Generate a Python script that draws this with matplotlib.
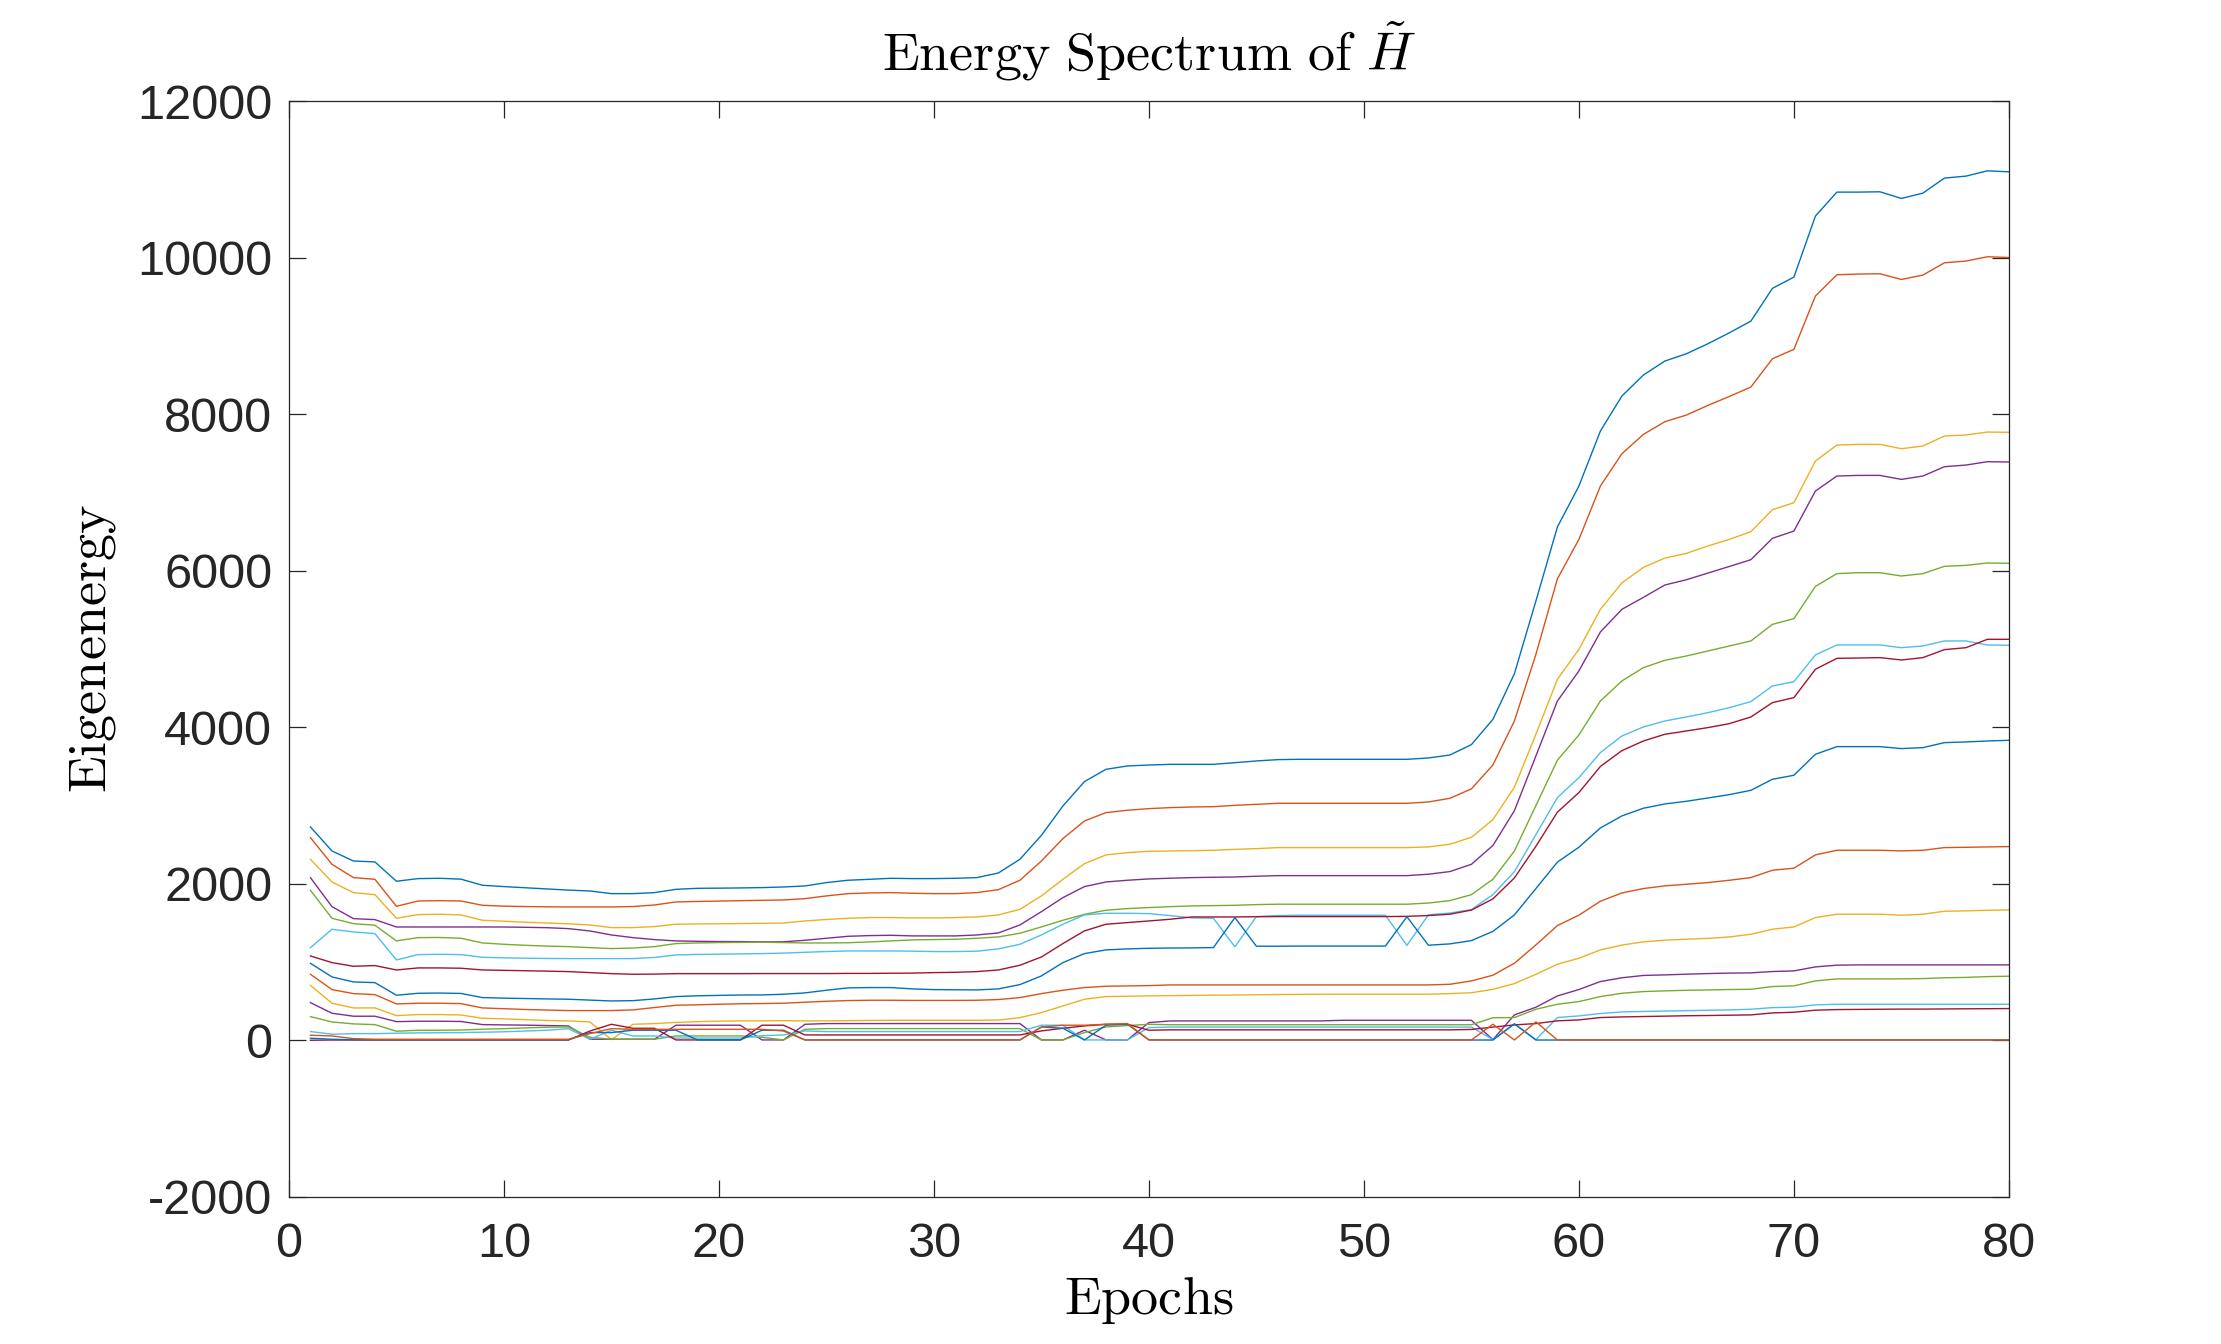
import numpy as np
import matplotlib
matplotlib.use("Agg")
import matplotlib.pyplot as plt

# eigenvalues of H~ per epoch (16 levels)
epochs = np.arange(1, 81)

level_01 = [2727, 2420, 2292, 2280, 2033, 2067, 2071, 2060, 1982, 1965,
            1950, 1935, 1920, 1909, 1875, 1875, 1888, 1930, 1943, 1945,
            1948, 1952, 1960, 1973, 2016, 2046, 2058, 2071, 2067, 2067,
            2071, 2080, 2139, 2314, 2620, 2995, 3306, 3463, 3506, 3518,
            3527, 3527, 3527, 3548, 3570, 3587, 3591, 3591, 3591, 3591,
            3591, 3591, 3608, 3646, 3779, 4102, 4685, 5614, 6559, 7082,
            7785, 8232, 8500, 8679, 8772, 8900, 9040, 9189, 9607, 9751,
            10530, 10837, 10837, 10841, 10756, 10824, 11016, 11041, 11109, 11096]
level_02 = [2590, 2250, 2080, 2058, 1713, 1781, 1785, 1781, 1726, 1715,
            1710, 1707, 1705, 1705, 1705, 1710, 1730, 1769, 1775, 1780,
            1785, 1790, 1794, 1811, 1846, 1875, 1884, 1888, 1880, 1875,
            1875, 1888, 1926, 2046, 2292, 2578, 2803, 2910, 2940, 2961,
            2974, 2982, 2986, 3003, 3016, 3029, 3029, 3029, 3029, 3029,
            3029, 3029, 3046, 3093, 3213, 3519, 4081, 4932, 5897, 6401,
            7082, 7495, 7742, 7904, 7989, 8112, 8227, 8347, 8708, 8828,
            9509, 9781, 9790, 9794, 9721, 9777, 9934, 9956, 10011, 10002]
level_03 = [2314, 2024, 1888, 1862, 1560, 1607, 1612, 1603, 1535, 1522,
            1510, 1500, 1490, 1475, 1441, 1441, 1454, 1484, 1488, 1490,
            1493, 1496, 1500, 1526, 1545, 1560, 1569, 1569, 1565, 1565,
            1569, 1577, 1603, 1675, 1846, 2058, 2258, 2369, 2399, 2416,
            2420, 2424, 2429, 2441, 2450, 2463, 2463, 2463, 2463, 2463,
            2463, 2463, 2472, 2506, 2595, 2820, 3235, 3911, 4613, 4996,
            5507, 5845, 6043, 6162, 6222, 6316, 6401, 6499, 6780, 6869,
            7401, 7606, 7614, 7614, 7559, 7593, 7721, 7734, 7772, 7768]
level_04 = [2079, 1709, 1556, 1543, 1449, 1449, 1449, 1449, 1449, 1449,
            1445, 1440, 1428, 1398, 1347, 1313, 1288, 1271, 1266, 1263,
            1262, 1258, 1260, 1279, 1305, 1330, 1339, 1343, 1335, 1335,
            1335, 1347, 1373, 1475, 1645, 1824, 1965, 2024, 2046, 2063,
            2072, 2080, 2084, 2088, 2097, 2105, 2105, 2105, 2105, 2105,
            2105, 2105, 2123, 2157, 2250, 2490, 2935, 3634, 4336, 4720,
            5218, 5507, 5660, 5818, 5885, 5970, 6055, 6141, 6414, 6507,
            7018, 7210, 7218, 7218, 7167, 7210, 7329, 7350, 7393, 7389]
level_05 = [1918, 1560, 1492, 1471, 1271, 1313, 1315, 1305, 1245, 1228,
            1215, 1205, 1198, 1185, 1173, 1180, 1198, 1237, 1245, 1250,
            1252, 1254, 1250, 1245, 1245, 1248, 1258, 1271, 1284, 1288,
            1292, 1305, 1322, 1369, 1450, 1535, 1611, 1663, 1684, 1697,
            1709, 1718, 1722, 1726, 1735, 1740, 1740, 1740, 1740, 1740,
            1740, 1740, 1755, 1786, 1862, 2058, 2420, 3000, 3580, 3902,
            4336, 4592, 4762, 4856, 4911, 4975, 5039, 5103, 5315, 5388,
            5800, 5963, 5975, 5975, 5933, 5963, 6056, 6069, 6099, 6095]
level_06 = [1185, 1420, 1386, 1364, 1028, 1096, 1100, 1096, 1062, 1055,
            1050, 1047, 1045, 1045, 1045, 1045, 1060, 1092, 1098, 1102,
            1105, 1109, 1115, 1126, 1135, 1143, 1143, 1143, 1140, 1135,
            1135, 1140, 1169, 1228, 1347, 1484, 1603, 1624, 1624, 1620,
            1594, 1565, 1560, 1196, 1582, 1595, 1599, 1599, 1599, 1599,
            1599, 1214, 1605, 1627, 1671, 1862, 2155, 2630, 3102, 3357,
            3677, 3889, 4004, 4081, 4132, 4187, 4251, 4328, 4528, 4583,
            4924, 5052, 5052, 5052, 5017, 5039, 5103, 5103, 5052, 5047]
level_07 = [1079, 994, 947, 956, 900, 926, 926, 922, 900, 895,
            890, 885, 879, 866, 853, 845, 847, 853, 853, 853,
            853, 854, 854, 854, 854, 856, 856, 858, 860, 866,
            870, 879, 900, 960, 1066, 1237, 1399, 1484, 1505, 1526,
            1548, 1577, 1577, 1577, 1580, 1582, 1582, 1582, 1582, 1582,
            1582, 1585, 1595, 1612, 1665, 1808, 2076, 2480, 2916, 3166,
            3500, 3702, 3825, 3911, 3953, 3996, 4047, 4132, 4315, 4379,
            4741, 4881, 4885, 4890, 4860, 4890, 4992, 5017, 5124, 5124]
level_08 = [985, 811, 747, 738, 577, 602, 605, 600, 547, 540,
            535, 530, 526, 515, 504, 508, 530, 560, 570, 575,
            580, 581, 590, 607, 641, 671, 675, 675, 658, 649,
            647, 645, 658, 713, 824, 994, 1109, 1156, 1169, 1177,
            1180, 1182, 1186, 1569, 1203, 1203, 1205, 1205, 1205, 1205,
            1205, 1580, 1216, 1233, 1275, 1393, 1603, 1940, 2278, 2468,
            2714, 2868, 2966, 3021, 3055, 3097, 3140, 3195, 3336, 3387,
            3655, 3753, 3753, 3753, 3728, 3740, 3804, 3813, 3825, 3834]
level_09 = [845, 649, 598, 585, 466, 475, 475, 470, 415, 405,
            395, 388, 381, 381, 381, 390, 420, 449, 455, 462,
            468, 471, 475, 488, 500, 509, 513, 513, 511, 511,
            511, 513, 522, 547, 598, 641, 675, 692, 696, 700,
            709, 709, 709, 709, 709, 709, 709, 709, 709, 709,
            709, 709, 709, 717, 760, 833, 986, 1220, 1467, 1600,
            1778, 1884, 1940, 1974, 1995, 2016, 2046, 2080, 2174, 2200,
            2370, 2429, 2429, 2429, 2421, 2429, 2463, 2467, 2472, 2476]
level_10 = [704, 475, 415, 415, 317, 330, 330, 325, 283, 275,
            265, 255, 249, 236, 10, 206, 215, 230, 240, 245,
            250, 250, 252, 249, 250, 252, 255, 257, 257, 257,
            257, 257, 260, 291, 355, 440, 526, 560, 564, 569,
            572, 575, 578, 580, 583, 586, 588, 590, 590, 590,
            590, 590, 590, 598, 609, 652, 726, 845, 973, 1050,
            1156, 1218, 1259, 1280, 1293, 1303, 1322, 1356, 1420, 1450,
            1569, 1612, 1612, 1612, 1599, 1612, 1650, 1655, 1662, 1667]
level_11 = [483, 347, 309, 309, 240, 245, 245, 242, 202, 198,
            195, 190, 185, 15, 15, 15, 15, 194, 194, 194,
            194, 6, 6, 206, 215, 215, 215, 215, 215, 215,
            215, 215, 215, 215, 6, 6, 130, 6, 6, 228,
            249, 249, 249, 249, 249, 249, 249, 249, 257, 257,
            257, 257, 257, 257, 257, 10, 326, 424, 568, 650,
            752, 800, 830, 837, 846, 854, 860, 863, 880, 888,
            939, 961, 965, 965, 965, 965, 965, 965, 965, 965]
level_12 = [304, 236, 211, 202, 117, 130, 130, 133, 143, 150,
            160, 168, 172, 40, 15, 15, 15, 57, 57, 57,
            57, 40, 6, 142, 151, 151, 151, 151, 151, 151,
            151, 151, 151, 151, 6, 6, 100, 172, 190, 206,
            200, 200, 200, 200, 200, 200, 200, 200, 200, 200,
            200, 200, 200, 200, 200, 290, 292, 398, 462, 496,
            560, 602, 624, 633, 640, 645, 650, 653, 688, 697,
            760, 786, 786, 786, 786, 790, 800, 805, 815, 820]
level_13 = [113, 79, 87, 87, 92, 96, 98, 100, 105, 110,
            120, 130, 150, 15, 130, 57, 57, 30, 30, 30,
            30, 60, 70, 121, 113, 113, 113, 113, 113, 113,
            113, 113, 113, 113, 194, 194, 6, 6, 6, 164,
            170, 170, 170, 170, 170, 170, 170, 170, 170, 170,
            170, 170, 170, 170, 170, 10, 215, 10, 292, 313,
            343, 364, 370, 375, 380, 385, 390, 398, 419, 425,
            454, 462, 462, 462, 462, 462, 462, 462, 462, 462]
level_14 = [2, 5, 5, 5, 5, 5, 5, 5, 5, 5,
            5, 5, 5, 120, 206, 155, 155, 6, 6, 6,
            6, 194, 194, 70, 70, 70, 70, 70, 70, 70,
            70, 70, 70, 70, 121, 155, 185, 206, 206, 130,
            135, 135, 135, 135, 135, 135, 135, 135, 135, 135,
            135, 135, 135, 135, 140, 170, 198, 215, 250, 262,
            292, 300, 305, 310, 315, 318, 322, 326, 351, 360,
            386, 394, 396, 398, 400, 400, 402, 404, 405, 407]
level_15 = [28, 15, 8, 8, 8, 8, 8, 8, 8, 8,
            8, 8, 8, 100, 100, 130, 130, 130, 6, 6,
            6, 130, 130, 6, 6, 6, 6, 6, 6, 6,
            6, 6, 6, 6, 172, 155, 6, 194, 206, 6,
            5, 5, 5, 5, 5, 5, 5, 5, 5, 5,
            5, 5, 5, 5, 5, 5, 210, 5, 5, 5,
            5, 5, 5, 5, 5, 5, 5, 5, 5, 5,
            5, 5, 5, 5, 5, 5, 5, 5, 5, 5]
level_16 = [66, 57, 23, 15, 15, 15, 15, 15, 15, 15,
            15, 15, 15, 87, 150, 142, 142, 142, 142, 142,
            142, 142, 120, 6, 6, 6, 6, 6, 6, 6,
            6, 6, 6, 6, 170, 194, 194, 206, 215, 6,
            6, 6, 6, 6, 6, 6, 6, 6, 6, 6,
            6, 6, 6, 6, 6, 207, 6, 237, 6, 6,
            6, 6, 6, 6, 6, 6, 6, 6, 6, 6,
            6, 6, 6, 6, 6, 6, 6, 6, 6, 6]

levels = [level_01, level_02, level_03, level_04, level_05, level_06, level_07, level_08,
          level_09, level_10, level_11, level_12, level_13, level_14, level_15, level_16]

# MATLAB default colour order
colors = ["#0072BD", "#D95319", "#EDB120", "#7E2F8E", "#77AC30", "#4DBEEE", "#A2142F"]

plt.rcParams["mathtext.fontset"] = "cm"
plt.rcParams["axes.unicode_minus"] = False
plt.rcParams["font.family"] = ["Liberation Sans", "DejaVu Sans"]

fig = plt.figure(figsize=(22.21, 13.44), dpi=100)
ax = fig.add_axes([0.1301, 0.1094, 0.9045 - 0.1301, 0.9248 - 0.1094])

for i, lv in enumerate(levels):
    ax.plot(epochs, lv, color=colors[i % len(colors)], lw=1.0)

ax.set_xlim(0, 80)
ax.set_ylim(-2000, 12000)
ax.set_xticks(np.arange(0, 81, 10))
ax.set_yticks(np.arange(-2000, 12001, 2000))
ax.tick_params(direction="in", length=12, width=0.9, labelsize=35, colors="#262626",
               top=True, right=True)
ax.tick_params(axis="x", pad=18)
ax.tick_params(axis="y", pad=12)
for sp in ax.spines.values():
    sp.set_linewidth(0.9)
    sp.set_color("#262626")

ax.set_title(r"$\mathrm{Energy\ Spectrum\ of\ }\tilde{H}$", fontsize=39, pad=22)
ax.set_xlabel(r"$\mathrm{Epochs}$", fontsize=39, labelpad=6)
ax.set_ylabel(r"$\mathrm{Eigenenergy}$", fontsize=39, labelpad=14)

fig.savefig("out.png", dpi=100, facecolor="white")
